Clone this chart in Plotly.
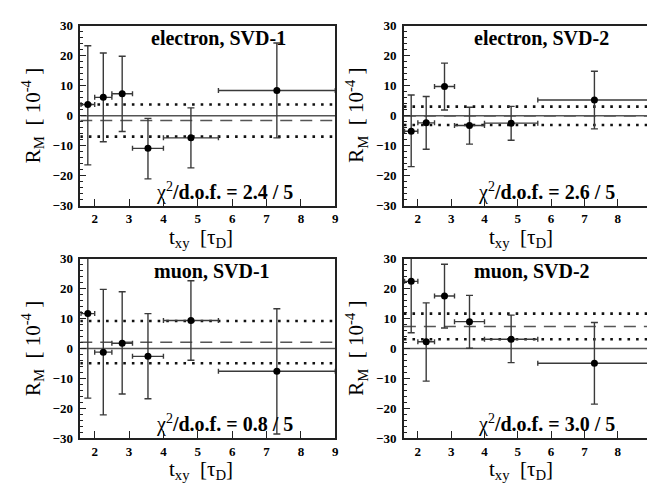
import plotly.graph_objects as go

# ---------------- data ----------------
tbin_center = [1.8, 2.25, 2.8, 3.55, 4.8, 7.3]
tbin_lo = [1.6, 2.0, 2.5, 3.1, 4.0, 5.6]
tbin_hi = [2.0, 2.5, 3.1, 4.0, 5.6, 9.0]

panel_titles = ["electron, SVD-1", "electron, SVD-2", "muon, SVD-1", "muon, SVD-2"]
chi2_labels = ["2.4 / 5", "2.6 / 5", "0.8 / 5", "3.0 / 5"]

e1_val = [3.7, 6.1, 7.3, -10.9, -7.4, 8.4]
e1_hi = [23.3, 20.9, 19.8, -0.9, 2.6, 24.2]
e1_lo = [-16.4, -8.7, -5.3, -21.1, -17.4, -7.4]

e2_val = [-5.2, -2.4, 9.7, -3.3, -2.5, 5.2]
e2_hi = [6.9, 6.4, 17.5, 2.8, 3.1, 14.8]
e2_lo = [-17.0, -11.2, 1.9, -9.5, -8.2, -4.4]

m1_val = [11.7, -1.2, 1.8, -2.6, 9.4, -7.6]
m1_hi = [31.0, 19.8, 19.0, 11.7, 22.7, 13.3]
m1_lo = [-16.6, -22.2, -15.2, -16.8, -3.9, -28.6]

m2_val = [22.5, 2.3, 17.6, 9.0, 3.1, -4.9]
m2_hi = [31.5, 15.3, 28.2, 17.8, 11.2, 8.7]
m2_lo = [5.3, -10.9, 6.9, 0.1, -4.7, -18.6]

fit_mean = [-1.6, -0.1, 2.15, 7.4]
fit_band_lo = [-7.0, -3.1, -4.9, 3.1]
fit_band_hi = [3.7, 3.0, 9.2, 11.7]

x_tick_vals = [2, 3, 4, 5, 6, 7, 8, 9]
y_tick_vals = [-30, -20, -10, 0, 10, 20, 30]
x_range = [1.58, 9.0]
y_range = [-30, 30]

panels = [(e1_val, e1_hi, e1_lo), (e2_val, e2_hi, e2_lo),
          (m1_val, m1_hi, m1_lo), (m2_val, m2_hi, m2_lo)]

# ---------------- layout geometry ----------------
W, H = 655, 485
xdoms = [[72.7 / W, 329.3 / W], [398.3 / W, 647.0 / W]]
ydoms = [[1 - 196.7 / H, 1 - 11.0 / H], [1 - 436.7 / H, 1 - 251.7 / H]]

SERIF = "Liberation Serif, Times New Roman, Times, serif"
AXCOL = "#222222"
ERRCOL = "#3a3a3a"

fig = go.Figure()
layout_axes = {}
annotations = []

for i, (val, hi, lo) in enumerate(panels):
    row, col = divmod(i, 2)
    n = i + 1
    xa = "x" if n == 1 else f"x{n}"
    ya = "y" if n == 1 else f"y{n}"
    xd, yd = xdoms[col], ydoms[row]

    # zero line
    fig.add_trace(go.Scatter(x=x_range, y=[0, 0], mode="lines", xaxis=xa, yaxis=ya,
                             line=dict(color="#555555", width=1.5), hoverinfo="skip", showlegend=False))
    # dotted band
    for b in (fit_band_lo[i], fit_band_hi[i]):
        fig.add_trace(go.Scatter(x=x_range, y=[b, b], mode="lines", xaxis=xa, yaxis=ya,
                                 line=dict(color="#111111", width=2.6, dash="2.6px,6px"),
                                 hoverinfo="skip", showlegend=False))
    # dashed mean
    fig.add_trace(go.Scatter(x=x_range, y=[fit_mean[i]] * 2, mode="lines", xaxis=xa, yaxis=ya,
                             line=dict(color="#555555", width=1.5, dash="12px,8px"),
                             hoverinfo="skip", showlegend=False))
    # data points
    fig.add_trace(go.Scatter(
        x=tbin_center, y=val, mode="markers", xaxis=xa, yaxis=ya, showlegend=False,
        marker=dict(color="black", size=7),
        error_y=dict(type="data", symmetric=False,
                     array=[h - v for h, v in zip(hi, val)],
                     arrayminus=[v - l for v, l in zip(val, lo)],
                     color=ERRCOL, thickness=1.4, width=3.5),
        error_x=dict(type="data", symmetric=False,
                     array=[h - c for h, c in zip(tbin_hi, tbin_center)],
                     arrayminus=[c - l for c, l in zip(tbin_center, tbin_lo)],
                     color=ERRCOL, thickness=1.4, width=2.5),
    ))

    common = dict(showline=True, mirror=True, linecolor=AXCOL, linewidth=1.5,
                  ticks="inside", tickcolor=AXCOL, tickwidth=1.3, showgrid=False,
                  zeroline=False, ticklabeloverflow="allow",
                  tickfont=dict(family=SERIF, size=13, color="black", weight="bold"))
    layout_axes["xaxis" if n == 1 else f"xaxis{n}"] = dict(
        domain=xd, anchor=ya, range=x_range, tickvals=x_tick_vals, ticklen=7, **common)
    layout_axes["yaxis" if n == 1 else f"yaxis{n}"] = dict(
        domain=yd, anchor=xa, range=y_range, tickvals=y_tick_vals, ticklen=6,
        minor=dict(dtick=2, ticks="inside", ticklen=3, tickcolor=AXCOL, tickwidth=1),
        ticklabelstandoff=3, **common)

    dx0, dx1 = xd
    dy0, dy1 = yd
    title_x = [0.544, 0.556, 0.516, 0.517][i]
    annotations.append(dict(
        xref="paper", yref="paper", x=dx0 + title_x * (dx1 - dx0), y=dy0 + 0.93 * (dy1 - dy0),
        text=f"<b>{panel_titles[i]}</b>", showarrow=False, xanchor="center", yanchor="middle",
        font=dict(family=SERIF, size=20, color="black")))
    annotations.append(dict(
        xref="paper", yref="paper", x=dx0 + 0.29 * (dx1 - dx0), y=dy0 + 0.08 * (dy1 - dy0),
        text=f"χ<sup>2</sup><b>/d.o.f. = {chi2_labels[i]}</b>", showarrow=False,
        xanchor="left", yanchor="middle",
        font=dict(family=SERIF, size=20, color="black")))
    # axis titles
    annotations.append(dict(
        xref="paper", yref="paper", x=(dx0 + dx1) / 2 - 0.01, y=dy0 - 33 / H,
        text="t<sub>xy</sub>  [τ<sub>D</sub>]", showarrow=False, xanchor="center", yanchor="middle",
        font=dict(family=SERIF, size=21, color="black")))
    annotations.append(dict(
        xref="paper", yref="paper", x=dx0 - 48 / W, y=(dy0 + dy1) / 2,
        text="R<sub>M</sub>  [ 10<sup>-4</sup> ]", showarrow=False, xanchor="center", yanchor="middle",
        textangle=-90, font=dict(family=SERIF, size=21, color="black")))

fig.update_layout(
    width=W, height=H, margin=dict(l=0, r=0, t=0, b=0),
    paper_bgcolor="white", plot_bgcolor="white",
    annotations=annotations, **layout_axes)

fig.write_html("out.html")
